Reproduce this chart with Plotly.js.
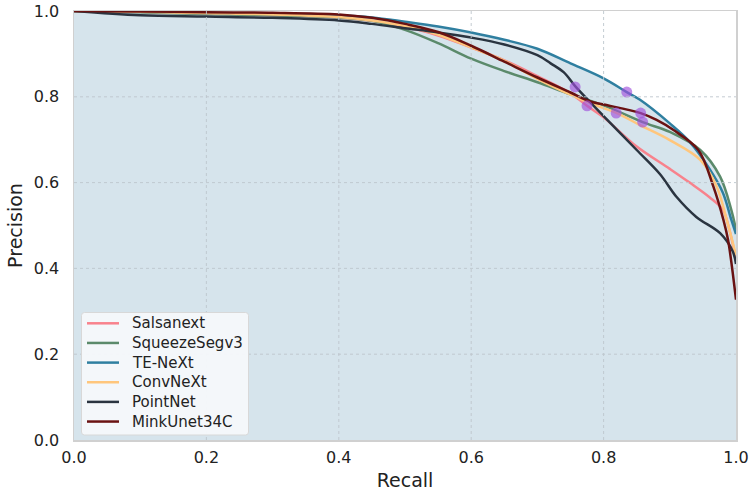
<!DOCTYPE html>
<html>
<head>
<meta charset="utf-8">
<script src="https://cdn.plot.ly/plotly-3.0.1.min.js"></script>
<style>html,body{margin:0;padding:0;background:#fff;}</style>
</head>
<body>
<div id="chart" style="width:751px;height:491px;"></div>
<script>
// ---- data ----
const seriesNames = ["Salsanext", "SqueezeSegv3", "TE-NeXt", "ConvNeXt", "PointNet", "MinkUnet34C"];
const seriesColors = ["#f8828c", "#5b8a6b", "#2f7fa0", "#ffc67c", "#2a3440", "#6a1212"];

const salsaRecall    = [0, 0.1, 0.2, 0.3, 0.4, 0.45, 0.5, 0.55, 0.6, 0.65, 0.7, 0.75, 0.775, 0.8, 0.85, 0.9, 0.93, 0.96, 0.98, 0.99, 1.0];
const salsaPrecision = [1.0, 0.998, 0.994, 0.99, 0.985, 0.977, 0.963, 0.943, 0.915, 0.885, 0.848, 0.808, 0.779, 0.752, 0.684, 0.632, 0.600, 0.566, 0.537, 0.49, 0.42];

const squeezeRecall    = [0, 0.1, 0.2, 0.3, 0.4, 0.45, 0.5, 0.55, 0.6, 0.65, 0.7, 0.75, 0.8, 0.859, 0.9, 0.946, 0.976, 0.993, 1.0];
const squeezePrecision = [1.0, 0.997, 0.993, 0.99, 0.985, 0.977, 0.956, 0.925, 0.889, 0.86, 0.834, 0.806, 0.78, 0.741, 0.718, 0.676, 0.614, 0.536, 0.49];

const tenextRecall    = [0, 0.1, 0.2, 0.3, 0.4, 0.45, 0.5, 0.55, 0.6, 0.65, 0.7, 0.75, 0.8, 0.835, 0.855, 0.9, 0.93, 0.96, 0.98, 0.993, 1.0];
const tenextPrecision = [1.0, 0.998, 0.995, 0.993, 0.99, 0.985, 0.975, 0.964, 0.95, 0.933, 0.912, 0.878, 0.843, 0.811, 0.793, 0.738, 0.695, 0.632, 0.577, 0.513, 0.48];

const convRecall    = [0, 0.1, 0.2, 0.3, 0.4, 0.45, 0.5, 0.55, 0.6, 0.65, 0.7, 0.75, 0.78, 0.82, 0.855, 0.9, 0.946, 0.971, 0.986, 1.0];
const convPrecision = [1.0, 0.998, 0.995, 0.992, 0.986, 0.978, 0.965, 0.945, 0.915, 0.884, 0.842, 0.805, 0.785, 0.762, 0.734, 0.699, 0.653, 0.59, 0.513, 0.43];

const pointRecall    = [0, 0.1, 0.2, 0.3, 0.4, 0.45, 0.5, 0.55, 0.6, 0.65, 0.7, 0.72, 0.74, 0.757, 0.78, 0.8, 0.85, 0.885, 0.91, 0.94, 0.976, 0.995, 1.0];
const pointPrecision = [1.0, 0.99, 0.987, 0.984, 0.978, 0.97, 0.96, 0.95, 0.938, 0.922, 0.897, 0.878, 0.857, 0.825, 0.787, 0.755, 0.676, 0.62, 0.567, 0.52, 0.482, 0.44, 0.41];

const minkRecall    = [0, 0.1, 0.2, 0.3, 0.4, 0.45, 0.5, 0.55, 0.6, 0.65, 0.7, 0.75, 0.78, 0.8, 0.856, 0.88, 0.905, 0.943, 0.966, 0.981, 0.988, 1.0];
const minkPrecision = [1.0, 0.999, 0.997, 0.996, 0.992, 0.984, 0.97, 0.951, 0.919, 0.882, 0.845, 0.81, 0.789, 0.782, 0.762, 0.746, 0.723, 0.676, 0.59, 0.513, 0.466, 0.327];

// best-F1 points (purple markers)
const markerRecall    = [0.757, 0.775, 0.819, 0.835, 0.856, 0.859];
const markerPrecision = [0.823, 0.779, 0.762, 0.811, 0.762, 0.741];

const tickVals = [0, 0.2, 0.4, 0.6, 0.8, 1.0];
const tickText = ["0.0", "0.2", "0.4", "0.6", "0.8", "1.0"];

const recallArrays = [salsaRecall, squeezeRecall, tenextRecall, convRecall, pointRecall, minkRecall];
const precisionArrays = [salsaPrecision, squeezePrecision, tenextPrecision, convPrecision, pointPrecision, minkPrecision];

// ---- traces ----
const fillColor = "rgb(214,228,236)";
const traces = [];
for (let i = 0; i < seriesNames.length; i++) {
  traces.push({
    x: recallArrays[i], y: precisionArrays[i], type: "scatter", mode: "lines",
    line: {width: 0, shape: "spline", smoothing: 1}, fill: "tozeroy", fillcolor: fillColor,
    showlegend: false, hoverinfo: "skip"
  });
}
for (let i = 0; i < seriesNames.length; i++) {
  traces.push({
    x: recallArrays[i], y: precisionArrays[i], type: "scatter", mode: "lines",
    name: seriesNames[i], showlegend: false,
    line: {color: seriesColors[i], width: 2.5, shape: "spline", smoothing: 1}
  });
}
traces.push({
  x: markerRecall, y: markerPrecision, type: "scatter", mode: "markers",
  marker: {color: "rgba(160,80,220,0.65)", size: 11, line: {width: 0}},
  showlegend: false, hoverinfo: "skip"
});

// dotted grid drawn above the filled area
const shapes = [];
tickVals.slice(1, -1).forEach(v => {
  shapes.push({type: "line", xref: "x", yref: "paper", x0: v, x1: v, y0: 0, y1: 1, layer: "above",
    line: {color: "rgba(190,198,205,0.9)", width: 1, dash: "dot"}});
  shapes.push({type: "line", xref: "paper", yref: "y", x0: 0, x1: 1, y0: v, y1: v, layer: "above",
    line: {color: "rgba(190,198,205,0.9)", width: 1, dash: "dot"}});
});

// legend box (matplotlib style), in pixel-derived paper coords
const plotL = 74, plotR = 736, plotT = 11, plotB = 440;
const px2x = p => (p - plotL) / (plotR - plotL);
const px2y = p => (plotB - p) / (plotB - plotT);
shapes.push({type: "path", xref: "paper", yref: "paper", layer: "above",
  path: (() => {
    const x0 = px2x(81.5), x1 = px2x(248.5), y0 = px2y(435), y1 = px2y(312.5);
    const rx = 3 / (plotR - plotL), ry = 3 / (plotB - plotT);
    return `M ${x0+rx},${y0} L ${x1-rx},${y0} Q ${x1},${y0} ${x1},${y0+ry} L ${x1},${y1-ry} Q ${x1},${y1} ${x1-rx},${y1} ` +
           `L ${x0+rx},${y1} Q ${x0},${y1} ${x0},${y1-ry} L ${x0},${y0+ry} Q ${x0},${y0} ${x0+rx},${y0} Z`;
  })(),
  fillcolor: "rgba(245,248,251,0.95)", line: {color: "#d8d8d8", width: 1}});
const annotations = [];
seriesNames.forEach((name, i) => {
  const cy = 323.3 + i * 19.65;
  shapes.push({type: "line", xref: "paper", yref: "paper", layer: "above",
    x0: px2x(87), x1: px2x(119), y0: px2y(cy), y1: px2y(cy),
    line: {color: seriesColors[i], width: 2.5}});
  annotations.push({xref: "paper", yref: "paper", x: px2x(130), y: px2y(cy), xanchor: "left", yanchor: "middle",
    text: name, showarrow: false, font: {family: "DejaVu Sans", size: 15, color: "#222"}});
});

const axisCommon = {
  range: [0, 1.0], tickvals: tickVals, ticktext: tickText,
  showgrid: false, zeroline: false, showline: true, mirror: true, linecolor: "#d0d0d0", linewidth: 1.5,
  ticks: "outside", ticklen: 5, tickcolor: "rgba(0,0,0,0)",
  tickfont: {family: "DejaVu Sans", size: 16, color: "#222"}
};

const layout = {
  width: 751, height: 491,
  margin: {l: 74, r: 15, t: 11, b: 51},
  paper_bgcolor: "#ffffff", plot_bgcolor: "#ffffff",
  font: {family: "DejaVu Sans", color: "#222"},
  xaxis: Object.assign({}, axisCommon, {ticklen: 2, title: {text: "Recall", font: {size: 19, family: "DejaVu Sans", color: "#222"}, standoff: 8}}),
  yaxis: Object.assign({}, axisCommon, {ticklen: 10, title: {text: "Precision", font: {size: 19, family: "DejaVu Sans", color: "#222"}, standoff: 6}}),
  shapes: shapes,
  annotations: annotations,
  showlegend: false
};

Plotly.newPlot("chart", traces, layout, {displayModeBar: false, staticPlot: true});
</script>
</body>
</html>
